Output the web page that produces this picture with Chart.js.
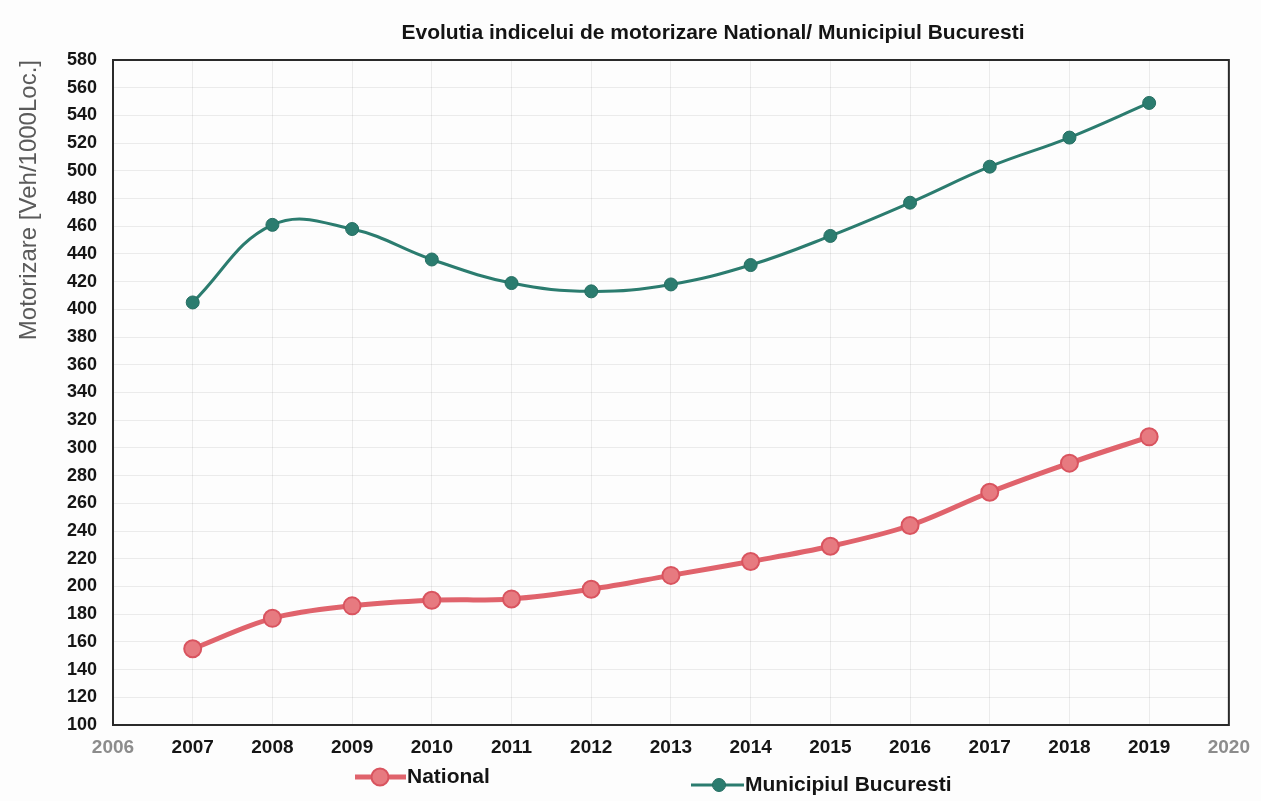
<!DOCTYPE html>
<html>
<head>
<meta charset="utf-8">
<script src="https://cdn.jsdelivr.net/npm/chart.js@4.4.1/dist/chart.umd.min.js"></script>
<style>
html,body{margin:0;padding:0;background:#fdfdfd;}
#wrap{width:1261px;height:801px;position:relative;}
</style>
</head>
<body>
<div id="wrap"><canvas id="c" width="1261" height="801"></canvas></div>
<script>
// ---- data ----
const years = [2007, 2008, 2009, 2010, 2011, 2012, 2013, 2014, 2015, 2016, 2017, 2018, 2019];
const national = [155, 177, 186, 190, 191, 198, 208, 218, 229, 244, 268, 289, 308];
const bucuresti = [405, 461, 458, 436, 419, 413, 418, 432, 453, 477, 503, 524, 549];
const seriesNames = ['National', 'Municipiul Bucuresti'];
const yMin = 100, yMax = 580, yStep = 20;
const xMin = 2006, xMax = 2020, xStep = 1;
const chartTitle = 'Evolutia indicelui de motorizare National/ Municipiul Bucuresti';
const yAxisTitle = 'Motorizare [Veh/1000Loc.]';

const FONT = "'Liberation Sans', Arial, Helvetica, sans-serif";

const toPoints = (vals) => vals.map((v, i) => ({ x: years[i], y: v }));

// frame around plot area
const framePlugin = {
  id: 'frame',
  beforeDatasetsDraw(chart) {
    const a = chart.chartArea, ctx = chart.ctx;
    ctx.save();
    ctx.strokeStyle = '#2a2a2a';
    ctx.lineWidth = 2;
    ctx.strokeRect(a.left, a.top, a.right - a.left, a.bottom - a.top);
    ctx.restore();
  }
};

// title + legend (line + marker + text)
const legendPos = [
  { cx: 380, cy: 777, x0: 355, x1: 406 },
  { cx: 719, cy: 785, x0: 691, x1: 744 }
];
const decorPlugin = {
  id: 'decor',
  afterDraw(chart) {
    const ctx = chart.ctx;
    ctx.save();
    ctx.fillStyle = '#141414';
    ctx.font = 'bold 21px ' + FONT;
    ctx.textAlign = 'center';
    ctx.textBaseline = 'middle';
    ctx.fillText(chartTitle, 713, 33);
    chart.data.datasets.forEach((ds, i) => {
      const p = legendPos[i];
      ctx.strokeStyle = ds.borderColor;
      ctx.lineWidth = ds.borderWidth;
      ctx.beginPath();
      ctx.moveTo(p.x0, p.cy);
      ctx.lineTo(p.x1, p.cy);
      ctx.stroke();
      ctx.beginPath();
      ctx.arc(p.cx, p.cy, ds.pointRadius, 0, Math.PI * 2);
      ctx.fillStyle = ds.pointBackgroundColor;
      ctx.fill();
      ctx.lineWidth = ds.pointBorderWidth;
      ctx.strokeStyle = ds.pointBorderColor;
      ctx.stroke();
      ctx.fillStyle = '#141414';
      ctx.font = 'bold 21px ' + FONT;
      ctx.textAlign = 'left';
      ctx.fillText(ds.label, p.x1 + 1, p.cy);
    });
    ctx.restore();
  }
};

new Chart(document.getElementById('c'), {
  type: 'line',
  data: {
    datasets: [
      {
        label: seriesNames[0],
        data: toPoints(national),
        borderColor: '#e0636c',
        borderWidth: 5,
        pointRadius: 8.5,
        pointHoverRadius: 8.5,
        pointBackgroundColor: '#e77a80',
        pointBorderColor: '#d9545f',
        pointBorderWidth: 2,
        tension: 0.35,
        fill: false
      },
      {
        label: seriesNames[1],
        data: toPoints(bucuresti),
        borderColor: '#2b7c6f',
        borderWidth: 3,
        pointRadius: 6.5,
        pointHoverRadius: 6.5,
        pointBackgroundColor: '#2b7c6f',
        pointBorderColor: '#256e62',
        pointBorderWidth: 1,
        tension: 0.4,
        fill: false
      }
    ]
  },
  options: {
    responsive: false,
    animation: false,
    devicePixelRatio: 1,
    layout: { padding: { top: 60, right: 22, bottom: 0, left: 0 } },
    plugins: {
      legend: { display: false },
      title: { display: false },
      tooltip: { enabled: false }
    },
    scales: {
      x: {
        type: 'linear',
        min: xMin,
        max: xMax,
        afterFit(scale) { scale.height = 76; },
        grid: { color: 'rgba(0,0,0,0.07)', drawTicks: false },
        border: { display: false },
        ticks: {
          stepSize: xStep,
          padding: 11,
          autoSkip: false,
          maxRotation: 0,
          font: { family: FONT, size: 19, weight: 'bold' },
          color: (c) => (c.tick && (c.tick.value === xMin || c.tick.value === xMax)) ? '#8c8c8c' : '#151515',
          callback: (v) => String(v)
        }
      },
      y: {
        min: yMin,
        max: yMax,
        afterFit(scale) { scale.width = 113; },
        grid: { color: 'rgba(0,0,0,0.07)', drawTicks: false },
        border: { display: false },
        ticks: {
          stepSize: yStep,
          padding: 16,
          font: { family: FONT, size: 18, weight: 'bold' },
          color: '#151515'
        },
        title: {
          display: true,
          text: yAxisTitle,
          align: 'end',
          color: '#5a5a5a',
          font: { family: FONT, size: 24, weight: 'normal' },
          padding: { top: 15, bottom: 0 }
        }
      }
    }
  },
  plugins: [framePlugin, decorPlugin]
});
</script>
</body>
</html>
